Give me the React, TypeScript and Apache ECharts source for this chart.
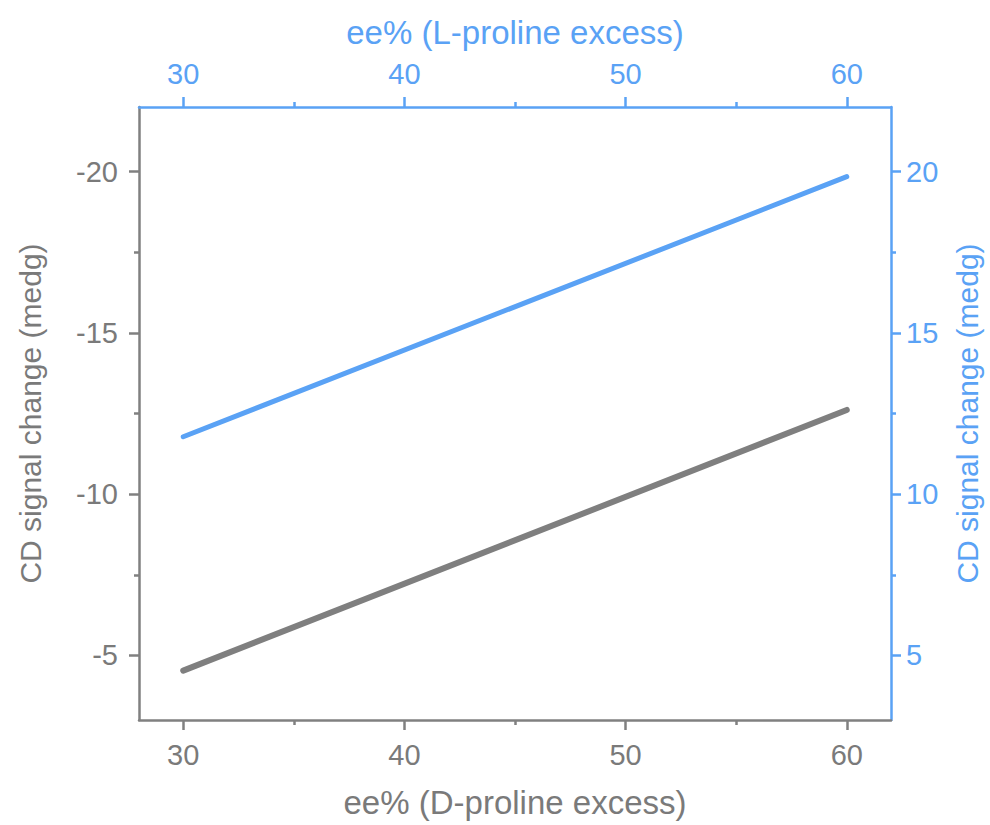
import React, { useEffect, useRef } from "react";
import * as echarts from "echarts";

// Bottom / top x axis (ee%)
const xTicks = [30, 40, 50, 60];
const xMinorTicks = [35, 45, 55];
// Left axis (D-proline, inverted) ticks
const leftTicks = [-20, -15, -10, -5];
const leftMinorTicks = [-17.5, -12.5, -7.5];
// Right axis (L-proline) ticks
const rightTicks = [5, 10, 15, 20];
const rightMinorTicks = [7.5, 12.5, 17.5];

// Series (fitted lines)
const eeValues = [30, 60];
const dProlineCD = [-4.53, -12.61];
const lProlineCD = [11.78, 19.84];

const GRAY = "#7a7a7a";
const GRAY_LINE = "#808080";
const BLUE = "#5aa2f5";
const FONT = "Liberation Sans, Arial, Helvetica, sans-serif";
const TICK_FS = 29;
const XNAME_FS = 33;
const YNAME_FS = 30;

export default function App() {
  const ref = useRef<HTMLDivElement>(null);
  useEffect(() => {
    if (!ref.current) return;
    const chart = echarts.init(ref.current, undefined, { renderer: "svg" });

    const mainAxis = (color: string, textColor: string, ticks: number[], margin: number, nameFs: number, extra: any) => ({
      type: "value",
      axisLine: { show: true, onZero: false, lineStyle: { color, width: 2.5 } },
      axisTick: { show: true, inside: false, length: 10, customValues: ticks, lineStyle: { color, width: 2.5 } },
      axisLabel: { show: true, customValues: ticks, color: textColor, fontSize: TICK_FS, fontFamily: FONT, margin },
      splitLine: { show: false },
      nameTextStyle: { color: textColor, fontSize: nameFs, fontFamily: FONT },
      nameLocation: "middle",
      ...extra,
    });
    const minorAxis = (color: string, ticks: number[], extra: any) => ({
      type: "value",
      axisLine: { show: false, onZero: false },
      axisTick: { show: true, inside: false, length: 5, customValues: ticks, lineStyle: { color, width: 2.5 } },
      axisLabel: { show: false },
      splitLine: { show: false },
      ...extra,
    });

    chart.setOption({
      animation: false,
      backgroundColor: "#ffffff",
      grid: { left: 139, right: 97, top: 107, bottom: 105, containLabel: false },
      xAxis: [
        mainAxis(GRAY_LINE, GRAY, xTicks, 20, XNAME_FS, {
          position: "bottom", min: 28, max: 62,
          name: "ee% (D-proline excess)", nameGap: 66,
        }),
        minorAxis(GRAY_LINE, xMinorTicks, { position: "bottom", min: 28, max: 62 }),
        mainAxis(BLUE, BLUE, xTicks, 19, XNAME_FS, {
          position: "top", min: 28, max: 62,
          name: "ee% (L-proline excess)", nameGap: 58,
        }),
        minorAxis(BLUE, xMinorTicks, { position: "top", min: 28, max: 62 }),
      ],
      yAxis: [
        mainAxis(GRAY_LINE, GRAY, leftTicks, 21, YNAME_FS, {
          position: "left", min: -22, max: -3, inverse: true,
          name: "CD signal change (medg)", nameGap: 94, nameRotate: 90,
        }),
        minorAxis(GRAY_LINE, leftMinorTicks, { position: "left", min: -22, max: -3, inverse: true }),
        mainAxis(BLUE, BLUE, rightTicks, 15, YNAME_FS, {
          position: "right", min: 3, max: 22,
          name: "CD signal change (medg)", nameGap: 61, nameRotate: 90,
        }),
        minorAxis(BLUE, rightMinorTicks, { position: "right", min: 3, max: 22 }),
      ],
      series: [
        {
          type: "line",
          xAxisIndex: 0,
          yAxisIndex: 0,
          data: eeValues.map((x, i) => [x, dProlineCD[i]]),
          showSymbol: false,
          symbol: "none",
          lineStyle: { color: "#7f7f7f", width: 6, cap: "round" },
        },
        {
          type: "line",
          xAxisIndex: 2,
          yAxisIndex: 2,
          data: eeValues.map((x, i) => [x, lProlineCD[i]]),
          showSymbol: false,
          symbol: "none",
          lineStyle: { color: BLUE, width: 5, cap: "round" },
        },
      ],
    });
    return () => chart.dispose();
  }, []);
  return (
    <div
      ref={ref}
      style={{ position: "fixed", left: 0, top: 0, width: 990, height: 825, background: "#fff" }}
    />
  );
}
